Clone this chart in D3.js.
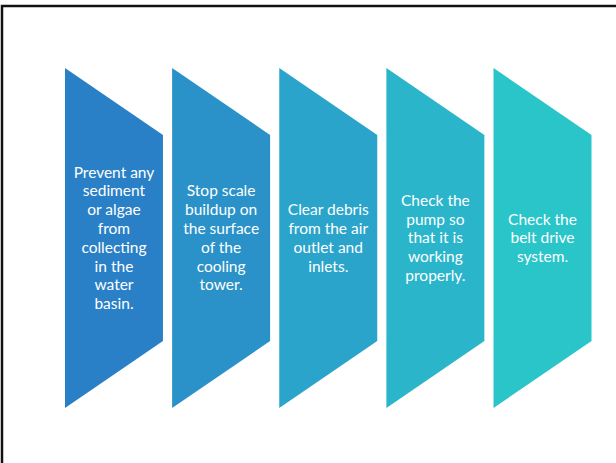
<!DOCTYPE html>
<html>
<head>
<meta charset="utf-8">
<script src="https://cdn.jsdelivr.net/npm/d3@7"></script>
<style>
    body { margin: 0; background: #fff; }
    svg { display: block; }
</style>
</head>
<body>
<script>
    // steps, one line of text per entry, as wrapped in the picture
    var steps = [
        ['Prevent any', 'sediment', 'or algae', 'from', 'collecting', 'in the', 'water', 'basin.'],
        ['Stop scale', 'buildup on', 'the surface', 'of the', 'cooling', 'tower.'],
        ['Clear debris', 'from the air', 'outlet and', 'inlets.'],
        ['Check the', 'pump so', 'that it is', 'working', 'properly.'],
        ['Check the', 'belt drive', 'system.']
    ];
    var stepColors = ['#2a80c7', '#2a92c9', '#2aa4ca', '#2ab5cb', '#29c5c9'];

    var width = 616, height = 463;

    var svg = d3.select('body').append('svg')
        .attr('width', width)
        .attr('height', height);

    // frame, runs off the right and bottom edges
    svg.append('rect')
        .attr('x', 2)
        .attr('y', 6)
        .attr('width', width + 10)
        .attr('height', height + 10)
        .attr('fill', 'none')
        .attr('stroke', '#111')
        .attr('stroke-width', 2.5);

    var x = d3.scaleBand()
        .domain(d3.range(steps.length))
        .range([65, 591.5])
        .paddingInner(0.0855)
        .paddingOuter(0);

    var y = d3.scaleLinear()
        .domain([0, 1])
        .range([68, 408]);

    var cut = 0.197; // share of height taken by each slanted edge

    var g = svg.selectAll('g.step')
        .data(steps)
        .enter().append('g')
        .attr('class', 'step');

    g.append('path')
        .attr('d', function (d, i) {
            var x0 = x(i), x1 = x(i) + x.bandwidth();
            return 'M' + x0 + ',' + y(0) +
                'L' + x1 + ',' + y(cut) +
                'L' + x1 + ',' + y(1 - cut) +
                'L' + x0 + ',' + y(1) + 'Z';
        })
        .attr('fill', function (d, i) { return stepColors[i]; });

    var lineH = 18.8;
    g.append('text')
        .attr('text-anchor', 'middle')
        .attr('fill', '#fff')
        .style('font-family', 'Lato, "Open Sans", sans-serif')
        .style('font-size', '15.5px')
        .each(function (d, i) {
            var t = d3.select(this);
            var cx = x(i) + x.bandwidth() / 2;
            var top = y(0.5) - (d.length - 1) * lineH / 2;
            t.selectAll('tspan')
                .data(d)
                .enter().append('tspan')
                .attr('x', cx)
                .attr('y', function (s, k) { return top + k * lineH; })
                .attr('dy', '0.35em')
                .text(function (s) { return s; });
        });
</script>
</body>
</html>
